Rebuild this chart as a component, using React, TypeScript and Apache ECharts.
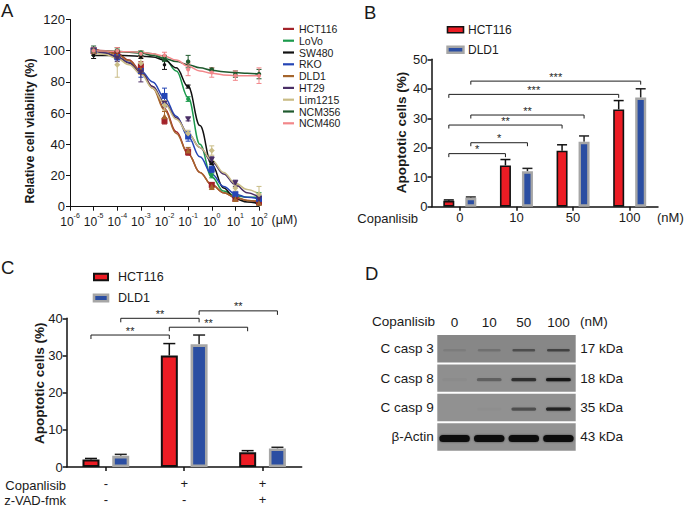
import React, { useEffect, useRef } from 'react';
import * as echarts from 'echarts';

const FONT = '"Liberation Sans", Arial, Helvetica, sans-serif';

// ---------------- Panel A data ----------------
const cellLines = ['HCT116', 'LoVo', 'SW480', 'RKO', 'DLD1', 'HT29', 'Lim1215', 'NCM356', 'NCM460'];
const doseExp = [-5, -4, -3, -2, -1, 0, 1, 2];
const viabHCT116 = [100, 98, 90, 55, 35, 14, 5, 3];
const viabLoVo = [100, 100, 99, 95, 69, 20, 7, 7];
const viabSW480 = [97, 97, 96, 91, 77, 28, 5, 2];
const viabRKO = [100, 96, 87, 71, 45, 24, 8, 5];
const viabDLD1 = [100, 97, 88, 58, 36, 13, 5, 2.5];
const viabHT29 = [100, 95, 86, 66, 56, 30, 15, 5];
const viabLim1215 = [100, 91, 92, 65, 47, 36, 12, 8];
const viabNCM356 = [100, 100, 98, 95, 93, 88, 85, 85];
const viabNCM460 = [100, 100, 98, 97, 88, 86, 84, 84];
const errHCT116 = [2, 2, 3, 2, 2, 1.5, 1, 1];
const errLoVo = [1, 1, 1, 1, 1.5, 1.5, 1, 2];
const errSW480 = [2, 1, 1, 3, 1, 1, 1, 1];
const errRKO = [2, 2, 4, 5, 3, 2, 1, 2];
const errDLD1 = [2, 2, 3, 3, 2, 2, 1, 1];
const errHT29 = [2, 2, 6, 2, 1, 2, 2, 2];
const errLim1215 = [2, 8, 4, 3, 2, 3, 2, 5];
const errNCM356 = [3, 2, 1, 2, 4, 1, 2, 3];
const errNCM460 = [2, 2, 2, 2, 4, 3, 3, 5];
const fitExp = [-5, -4.5, -4, -3.5, -3, -2.5, -2, -1.5, -1, -0.5, 0, 0.5, 1, 1.5, 2];
const fitHCT116 = [101, 100, 98, 94, 87, 77, 63, 48, 34, 22, 14, 9, 6, 4, 3];
const fitLoVo = [100, 99.8, 99.5, 99.2, 99, 98, 95, 87, 70, 40, 19, 10, 7, 6, 6];
const fitSW480 = [97, 97, 97, 96.8, 96.5, 96, 94, 89, 77, 52, 27, 12, 5, 3, 2];
const fitRKO = [100, 98.5, 96, 92.5, 87, 80, 70, 58, 45, 32, 21, 13, 8, 6, 5];
const fitDLD1 = [101, 99.5, 97.5, 93.5, 86.5, 76, 62, 47, 34, 22, 14, 9, 6, 4, 3.5];
const fitHT29 = [100, 98.5, 96, 92, 86, 77, 67, 57, 47, 38, 29, 21, 14, 9, 6];
const fitLim1215 = [99, 97.5, 95, 91, 85, 76, 66, 56, 47, 38, 30, 22, 15, 11, 8];
const fitNCM356 = [100, 99.8, 99.5, 99, 98.5, 97, 95, 93, 91, 89, 87.5, 86.5, 86, 85.5, 85];
const fitNCM460 = [100, 99.8, 99.5, 99.3, 99, 98, 96.5, 94, 90, 87, 85.5, 84.5, 84, 84, 84];

const viabAll = [viabHCT116, viabLoVo, viabSW480, viabRKO, viabDLD1, viabHT29, viabLim1215, viabNCM356, viabNCM460];
const errAll = [errHCT116, errLoVo, errSW480, errRKO, errDLD1, errHT29, errLim1215, errNCM356, errNCM460];
const fitAll = [fitHCT116, fitLoVo, fitSW480, fitRKO, fitDLD1, fitHT29, fitLim1215, fitNCM356, fitNCM460];

const lineColors = ['#a3232a', '#1b9a4c', '#111111', '#2445b5', '#a5652c', '#4a2f66', '#c9bc86', '#1f5a2e', '#f2878a'];
const lineSymbols = ['rect', 'circle', 'circle', 'rect', 'triangle', 'path://M0,0L10,0L5,9Z', 'diamond', 'circle', 'circle'];
const lineSymbolSizes = [6, 4, 3.5, 6, 6, 6, 6, 4.5, 4];

// ---------------- Panel B data ----------------
const bDoses = ['0', '10', '50', '100'];
const bHCT116 = [2, 14, 19, 33];
const bHCT116Err = [0.3, 2, 2, 3];
const bDLD1 = [3, 12, 22, 37];
const bDLD1Err = [0.3, 1, 2, 3];
// [cat1, seriesIdx1, cat2, seriesIdx2, y]
const bBrackets = [
  [0, 0, 1, 0, 18],
  [0, 1, 1, 1, 21.7],
  [0, 0, 2, 0, 27.7],
  [0, 1, 2, 1, 31.1],
  [0, 0, 3, 0, 38.1],
  [0, 1, 3, 1, 42.6],
];
const bStars = ['*', '*', '**', '**', '***', '***'];

// ---------------- Panel C data ----------------
const cCopanlisib = ['-', '+', '+'];
const cZVAD = ['-', '-', '+'];
const cHCT116 = [2, 30, 4];
const cHCT116Err = [0.3, 3.2, 0.4];
const cDLD1 = [3, 33, 5];
const cDLD1Err = [0.4, 2.5, 0.3];
const cBrackets = [
  [0, 0, 1, 0, 35.5],
  [0, 1, 1, 1, 40],
  [1, 0, 2, 0, 37.6],
  [1, 1, 2, 1, 42],
];
const cStars = ['**', '**', '**', '**'];

// ---------------- Panel D data ----------------
const blotLanes = ['0', '10', '50', '100'];
const blotRows = ['C casp 3', 'C casp 8', 'C casp 9', 'β-Actin'];
const blotSizes = ['17 kDa', '18 kDa', '35 kDa', '43 kDa'];
const blotCasp3 = [0.08, 0.16, 0.4, 0.48];
const blotCasp8 = [0.03, 0.3, 0.7, 0.9];
const blotCasp9 = [0, 0.02, 0.42, 0.8];
const blotActin = [1, 1, 1, 1];
const blotAll = [blotCasp3, blotCasp8, blotCasp9, blotActin];

// ---------------- helpers ----------------
const TXT = '#1a1a1a';
const BRACKET = '#1e1e1e';

function bracketSeries(xi: number, yi: number, data: number[][], stars: string[], offsets: number[], drop: number, starSize: number) {
  return {
    type: 'custom',
    xAxisIndex: xi,
    yAxisIndex: yi,
    clip: false,
    silent: true,
    z: 5,
    color: BRACKET,
    itemStyle: { color: BRACKET },
    data,
    encode: { x: [0, 2], y: 4 },
    renderItem: (params: any, api: any) => {
      const y = api.value(4);
      const p1 = api.coord([api.value(0), y]);
      const p2 = api.coord([api.value(2), y]);
      const x1 = p1[0] + offsets[api.value(1)];
      const x2 = p2[0] + offsets[api.value(3)];
      const yy = p1[1];
      return {
        type: 'group',
        children: [
          { type: 'line', shape: { x1, y1: yy + drop, x2: x1, y2: yy }, style: { stroke: BRACKET, lineWidth: 1 } },
          { type: 'line', shape: { x1, y1: yy, x2, y2: yy }, style: { stroke: BRACKET, lineWidth: 1 } },
          { type: 'line', shape: { x1: x2, y1: yy, x2, y2: yy + drop }, style: { stroke: BRACKET, lineWidth: 1 } },
          {
            type: 'text',
            x: (x1 + x2) / 2,
            y: yy - 4.5,
            style: { text: stars[params.dataIndex], fontSize: starSize, fontFamily: FONT, fill: BRACKET, align: 'center', verticalAlign: 'middle' },
          },
        ],
      };
    },
  };
}

function barErrSeries(xi: number, yi: number, values: number[], errs: number[], offset: number, capHalf: number, color: string) {
  return {
    type: 'custom',
    xAxisIndex: xi,
    yAxisIndex: yi,
    clip: false,
    silent: true,
    z: 1,
    color,
    itemStyle: { color },
    data: values.map((v, i) => [i, v, errs[i]]),
    renderItem: (params: any, api: any) => {
      const base = api.coord([api.value(0), api.value(1)]);
      const top = api.coord([api.value(0), api.value(1) + api.value(2)]);
      const x = base[0] + offset;
      return {
        type: 'group',
        children: [
          { type: 'line', shape: { x1: x, y1: base[1], x2: x, y2: top[1] }, style: { stroke: color, lineWidth: 1.5 } },
          { type: 'line', shape: { x1: x - capHalf, y1: top[1], x2: x + capHalf, y2: top[1] }, style: { stroke: color, lineWidth: 1.5 } },
        ],
      };
    },
  };
}

const hctStyle = { color: '#ec1c24', borderColor: '#111', borderWidth: 1.6 };
const dldStyle = { color: '#2b4ea2', borderColor: '#a6a6a6', borderWidth: 2.4 };

function axisLineStyle(w: number) {
  return { show: true, onZero: false, lineStyle: { color: '#111', width: w } };
}

function legendBox(x: number, y: number, w: number, h: number, style: any, label: string, tx: number, fs: number) {
  return [
    { type: 'rect', shape: { x, y: y - h / 2, width: w, height: h }, style: { fill: style.color, stroke: style.borderColor, lineWidth: style.borderWidth } },
    { type: 'text', x: tx, y, style: { text: label, fontSize: fs, fontFamily: FONT, fill: TXT, verticalAlign: 'middle' } },
  ];
}

function txt(x: number, y: number, text: string, fs: number, opts: any = {}) {
  return {
    type: 'text',
    x,
    y,
    rotation: opts.rotation || 0,
    style: {
      text,
      fontSize: fs,
      fontFamily: FONT,
      fontWeight: opts.bold ? 'bold' : 'normal',
      fill: TXT,
      align: opts.align || 'left',
      verticalAlign: 'middle',
    },
  };
}

export default function App() {
  const ref = useRef<HTMLDivElement>(null);

  useEffect(() => {
    document.body.style.margin = '0';
    const chart = echarts.init(ref.current!, null, { renderer: 'svg' });

    const lineSeries = cellLines.map((name, i) => ({
      type: 'line',
      name,
      xAxisIndex: 0,
      yAxisIndex: 0,
      color: lineColors[i],
      data: fitExp.map((x, k) => [x, fitAll[i][k]]),
      smooth: 0.4,
      smoothMonotone: 'x',
      showSymbol: false,
      symbol: 'none',
      lineStyle: { width: 1.5, color: lineColors[i] },
      z: 2,
    }));

    const errA: number[][] = [];
    cellLines.forEach((_, i) => {
      doseExp.forEach((x, j) => errA.push([x, viabAll[i][j], errAll[i][j], i]));
    });
    const errASeries = {
      type: 'custom',
      xAxisIndex: 0,
      yAxisIndex: 0,
      silent: true,
      z: 3,
      data: errA,
      encode: { x: 0, y: 1 },
      renderItem: (params: any, api: any) => {
        const x = api.value(0);
        const y = api.value(1);
        const e = api.value(2);
        const c = lineColors[api.value(3)];
        const hi = api.coord([x, y + e]);
        const lo = api.coord([x, y - e]);
        return {
          type: 'group',
          children: [
            { type: 'line', shape: { x1: hi[0], y1: hi[1], x2: lo[0], y2: lo[1] }, style: { stroke: c, lineWidth: 1 } },
            { type: 'line', shape: { x1: hi[0] - 2.5, y1: hi[1], x2: hi[0] + 2.5, y2: hi[1] }, style: { stroke: c, lineWidth: 1 } },
            { type: 'line', shape: { x1: lo[0] - 2.5, y1: lo[1], x2: lo[0] + 2.5, y2: lo[1] }, style: { stroke: c, lineWidth: 1 } },
          ],
        };
      },
    };

    const scatterSeries = cellLines.map((name, i) => ({
      type: 'scatter',
      name,
      xAxisIndex: 0,
      yAxisIndex: 0,
      symbol: lineSymbols[i],
      symbolSize: lineSymbolSizes[i],
      itemStyle: { color: lineColors[i], opacity: 1 },
      data: doseExp.map((x, j) => [x, viabAll[i][j]]),
      z: 4,
    }));

    const bOff = [-11, 11];
    const cOff = [-14.9, 14.9];

    const bandRowStyle = [
      { h: 2.4, w: 0.66 },
      { h: 3.4, w: 0.72 },
      { h: 3.2, w: 0.72 },
      { h: 7, w: 0.88 },
    ];
    const rowBg = ['#878787', '#8f8f8f', '#919191', '#929292'];

    const option: any = {
      animation: false,
      backgroundColor: '#ffffff',
      textStyle: { fontFamily: FONT },
      grid: [
        { left: 70, right: 426, top: 19.5, bottom: 300.3 },
        { left: 431.5, right: 27, top: 59.3, bottom: 300.3 },
        { left: 66.7, right: 383.3, top: 318.3, bottom: 38.7 },
        { left: 437.3, right: 109.3, top: 334, bottom: 55.3 },
      ],
      legend: {
        orient: 'vertical',
        left: 278,
        top: 18,
        itemWidth: 11,
        itemHeight: 2.2,
        itemGap: 0,
        icon: 'rect',
        selectedMode: false,
        data: cellLines,
        textStyle: { fontSize: 10.5, lineHeight: 11.8, fontFamily: FONT, color: TXT },
      },
      xAxis: [
        {
          gridIndex: 0,
          type: 'value',
          min: -6,
          max: 2,
          interval: 1,
          axisLine: axisLineStyle(1),
          axisTick: { show: true, length: 4, lineStyle: { color: '#111' } },
          splitLine: { show: false },
          axisLabel: {
            margin: 5,
            formatter: (v: number) => `{b|10}{s|${v}}`,
            rich: {
              b: { fontSize: 12, fontFamily: FONT, color: TXT, lineHeight: 16, verticalAlign: 'bottom' },
              s: { fontSize: 7, fontFamily: FONT, color: TXT, lineHeight: 16, verticalAlign: 'top' },
            },
          },
        },
        {
          gridIndex: 1,
          type: 'category',
          data: bDoses,
          axisLine: axisLineStyle(1.5),
          axisTick: { show: true, alignWithLabel: true, length: 4, lineStyle: { color: '#111', width: 1.5 } },
          axisLabel: { fontSize: 13, color: TXT, fontFamily: FONT, margin: 4 },
        },
        {
          gridIndex: 2,
          type: 'category',
          data: cCopanlisib.map((c, i) => `${c}\n${cZVAD[i]}`),
          axisLine: axisLineStyle(1.5),
          axisTick: { show: true, alignWithLabel: true, length: 4, lineStyle: { color: '#111', width: 1.5 } },
          axisLabel: { fontSize: 13, color: TXT, fontFamily: FONT, margin: 8, lineHeight: 16 },
        },
        {
          gridIndex: 3,
          type: 'category',
          position: 'top',
          data: blotLanes,
          axisLine: { show: false },
          axisTick: { show: false },
          axisLabel: { fontSize: 13.5, color: TXT, fontFamily: FONT, margin: 5 },
        },
      ],
      yAxis: [
        {
          gridIndex: 0,
          type: 'value',
          min: 0,
          max: 120,
          interval: 20,
          axisLine: axisLineStyle(1),
          axisTick: { show: true, length: 4, lineStyle: { color: '#111' } },
          splitLine: { show: false },
          axisLabel: { fontSize: 13, color: TXT, fontFamily: FONT, margin: 5 },
        },
        {
          gridIndex: 1,
          type: 'value',
          min: 0,
          max: 50,
          interval: 10,
          axisLine: axisLineStyle(1.5),
          axisTick: { show: true, length: 4, lineStyle: { color: '#111', width: 1.5 } },
          splitLine: { show: false },
          axisLabel: { fontSize: 13, color: TXT, fontFamily: FONT, margin: 4 },
        },
        {
          gridIndex: 2,
          type: 'value',
          min: 0,
          max: 40,
          interval: 10,
          axisLine: axisLineStyle(1.5),
          axisTick: { show: true, length: 4, lineStyle: { color: '#111', width: 1.5 } },
          splitLine: { show: false },
          axisLabel: { fontSize: 13, color: TXT, fontFamily: FONT, margin: 4 },
        },
        {
          gridIndex: 3,
          type: 'category',
          inverse: true,
          data: blotRows,
          axisLine: { show: false },
          axisTick: { show: false },
          axisLabel: { fontSize: 13.5, color: TXT, fontFamily: FONT, margin: 3.5 },
        },
        {
          gridIndex: 3,
          type: 'category',
          position: 'right',
          inverse: true,
          data: blotSizes,
          axisLine: { show: false },
          axisTick: { show: false },
          axisLabel: { fontSize: 13.5, color: TXT, fontFamily: FONT, margin: 4.5 },
        },
      ],
      series: [
        ...lineSeries,
        errASeries,
        ...scatterSeries,
        // Panel B
        barErrSeries(1, 1, bHCT116, bHCT116Err, bOff[0], 5, '#111111'),
        barErrSeries(1, 1, bDLD1, bDLD1Err, bOff[1], 5, '#222222'),
        { type: 'bar', name: 'HCT116', xAxisIndex: 1, yAxisIndex: 1, data: bHCT116, barWidth: 11, barGap: '100%', itemStyle: hctStyle, z: 2 },
        { type: 'bar', name: 'DLD1', xAxisIndex: 1, yAxisIndex: 1, data: bDLD1, barWidth: 11, barGap: '100%', itemStyle: dldStyle, z: 2 },
        bracketSeries(1, 1, bBrackets, bStars, bOff, 3.5, 11),
        // Panel C
        barErrSeries(2, 2, cHCT116, cHCT116Err, cOff[0], 6, '#111111'),
        barErrSeries(2, 2, cDLD1, cDLD1Err, cOff[1], 6, '#222222'),
        { type: 'bar', name: 'HCT116', xAxisIndex: 2, yAxisIndex: 2, data: cHCT116, barWidth: 17, barGap: '75%', itemStyle: { ...hctStyle, borderWidth: 2 }, z: 2 },
        { type: 'bar', name: 'DLD1', xAxisIndex: 2, yAxisIndex: 2, data: cDLD1, barWidth: 17, barGap: '75%', itemStyle: { ...dldStyle, borderWidth: 2.6 }, z: 2 },
        bracketSeries(2, 2, cBrackets, cStars, cOff, 4, 11),
        // Panel D background rows
        {
          type: 'custom',
          xAxisIndex: 3,
          yAxisIndex: 3,
          silent: true,
          z: 1,
          data: blotRows.map((_, r) => [0, r]),
          renderItem: (params: any, api: any) => {
            const cs = params.coordSys;
            const c = api.coord([0, api.value(1)]);
            const h = api.size([0, 1])[1];
            return {
              type: 'rect',
              shape: { x: cs.x, y: c[1] - h / 2 + 1, width: cs.width, height: h - 2 },
              style: { fill: rowBg[api.value(1)] },
            };
          },
        },
        // Panel D bands
        {
          type: 'custom',
          xAxisIndex: 3,
          yAxisIndex: 3,
          silent: true,
          z: 2,
          data: blotAll.flatMap((row, r) => row.map((v, l) => [l, r, v])),
          renderItem: (params: any, api: any) => {
            const r = api.value(1);
            const v = api.value(2);
            const c = api.coord([api.value(0), r]);
            const laneW = api.size([1, 0])[0];
            const st = bandRowStyle[r];
            const w = laneW * st.w;
            return {
              type: 'rect',
              shape: { x: c[0] - w / 2, y: c[1] + 1.5 - st.h / 2, width: w, height: st.h, r: st.h / 2 },
              style: {
                fill: `rgba(12,12,12,${v})`,
                shadowBlur: 2,
                shadowColor: `rgba(0,0,0,${v * 0.5})`,
              },
            };
          },
        },
      ],
      graphic: [
        // panel letters
        txt(1, 10.5, 'A', 18.5),
        txt(364, 12.5, 'B', 18.5),
        txt(1, 267, 'C', 18.5),
        txt(365, 273.3, 'D', 18.5),
        // axis titles
        txt(30, 131, 'Relative cell viability (%)', 12.5, { bold: true, rotation: Math.PI / 2, align: 'center' }),
        txt(401.7, 132.5, 'Apoptotic cells (%)', 13.5, { bold: true, rotation: Math.PI / 2, align: 'center' }),
        txt(39.3, 383.3, 'Apoptotic cells (%)', 13.5, { bold: true, rotation: Math.PI / 2, align: 'center' }),
        // A unit
        txt(271.5, 220, '(μM)', 12.5),
        // B labels
        txt(418, 218, 'Copanlisib', 13, { align: 'right' }),
        txt(657, 217, '(nM)', 13),
        ...legendBox(447.5, 29.7, 16, 6, hctStyle, 'HCT116', 468, 12),
        ...legendBox(447.5, 49.7, 16, 6, dldStyle, 'DLD1', 468, 12),
        // C labels
        txt(66, 485, 'Copanlisib', 13, { align: 'right' }),
        txt(66, 500.7, 'z-VAD-fmk', 13, { align: 'right' }),
        ...legendBox(94, 277, 14, 6.5, { ...hctStyle, borderWidth: 2 }, 'HCT116', 118, 12.5),
        ...legendBox(94, 298, 14, 6.5, { ...dldStyle, borderWidth: 2.6 }, 'DLD1', 118, 12.5),
        // D labels
        txt(435, 321.7, 'Copanlisib', 13.5, { align: 'right' }),
        txt(580, 321.7, '(nM)', 13.5),
      ],
    };

    chart.setOption(option);
    return () => chart.dispose();
  }, []);

  return <div ref={ref} style={{ width: 685, height: 507 }} />;
}
